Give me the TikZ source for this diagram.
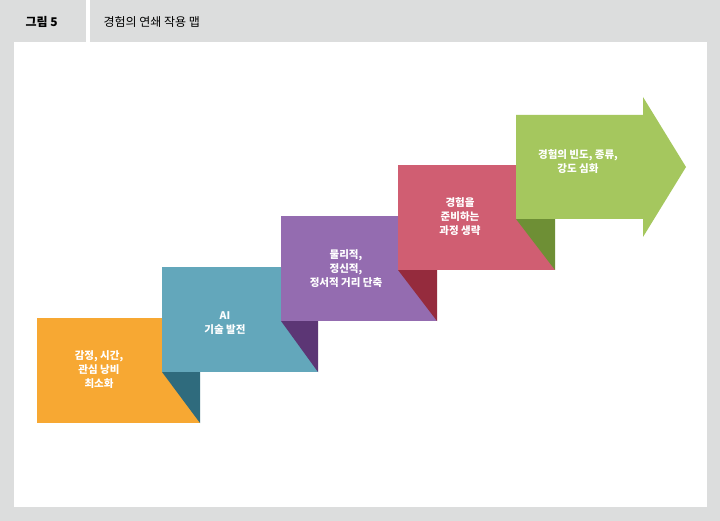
\documentclass[tikz,border=0pt]{standalone}
\usepackage{fontspec}
\setmainfont{Noto Sans CJK KR}
\newfontfamily\kb{Noto Sans CJK KR Medium}
\definecolor{fr}{HTML}{DCDDDD}
\definecolor{cO}{HTML}{F7A833}
\definecolor{cT}{HTML}{63A7BB}\definecolor{dT}{HTML}{2F6B7D}
\definecolor{cP}{HTML}{946CB0}\definecolor{dP}{HTML}{5C3675}
\definecolor{cR}{HTML}{D05E72}\definecolor{dR}{HTML}{952B3D}
\definecolor{cG}{HTML}{A5C75E}\definecolor{dG}{HTML}{6E8F35}
\begin{document}
\begin{tikzpicture}[x=1pt,y=-1pt,
  lbl/.style={text=white,align=center,font=\fontsize{10.5}{14}\selectfont\bfseries}]
\useasboundingbox (0,0) rectangle (720,521);
\fill[fr] (0,0) rectangle (720,521);
\fill[white] (14,42) rectangle (707,507);
\fill[white] (86,0) rectangle (90,42);
\fill[fr] (8,4) rectangle (86,42);
\node[anchor=west,font=\fontsize{12}{14}\selectfont\bfseries] (h1) at (22,22) {그림 5};
\node[anchor=west,font=\fontsize{12}{14}\selectfont] (h2) at (100,22) {경험의 연쇄 작용 맵};
% orange
\fill[cO] (37,318) rectangle (200,423);
\fill[dT] (162,372) -- (200,372) -- (200,423) -- cycle;
\fill[cT] (162,267) rectangle (318,372);
\fill[dP] (281,321) -- (318,321) -- (318,372) -- cycle;
\fill[cP] (281,216) rectangle (437,321);
\fill[dR] (398,270) -- (437,270) -- (437,321) -- cycle;
\fill[cR] (398,165) rectangle (555,270);
\fill[dG] (516,219) -- (555,219) -- (555,270) -- cycle;
\fill[cG] (516,115) -- (643,115) -- (643,97) -- (686,167) -- (643,237) -- (643,219) -- (516,219) -- cycle;
\node[lbl] (a) at (99,370) {감정, 시간,\\관심 낭비\\최소화};
\node[lbl] (b) at (225,323) {AI\\기술 발전};
\node[lbl] (c) at (346,269) {물리적,\\정신적,\\정서적 거리 단축};
\node[lbl] (d) at (460,217) {경험을\\준비하는\\과정 생략};
\node[lbl] (e) at (578,162) {경험의 빈도, 종류,\\강도 심화};
\end{tikzpicture}
\end{document}
